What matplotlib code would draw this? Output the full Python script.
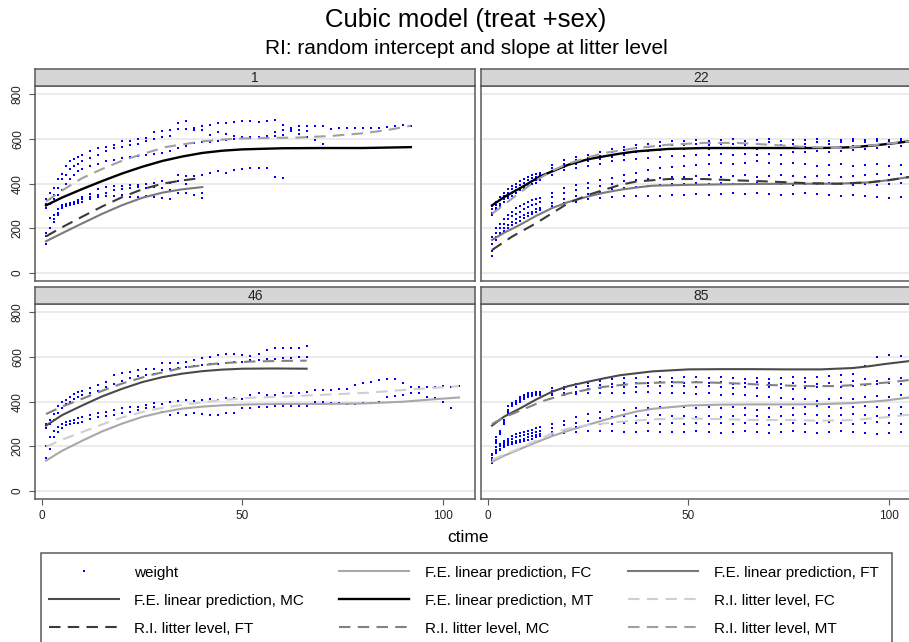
import matplotlib
matplotlib.use('Agg')
import matplotlib.pyplot as plt
from matplotlib.lines import Line2D
from matplotlib.patches import Rectangle

plt.rcParams['font.family'] = ['Liberation Sans', 'DejaVu Sans']

# measurement days (litters 1 and 46 every 2 days, litters 22 and 85 every 3 days)
days_a = [1, 2, 3, 4, 5, 6, 7, 8, 9, 10, 12, 14, 16, 18, 20, 22, 24, 26, 28, 30,
          32, 34, 36, 38, 40, 42, 44, 46, 48, 50, 52, 54, 56, 58, 60, 62, 64, 66, 68, 70,
          72, 74, 76, 78, 80, 82, 84, 86, 88, 90, 92, 94, 96, 98, 100, 102, 104]
days_b = [1, 2, 3, 4, 5, 6, 7, 8, 9, 10, 11, 12, 13, 16, 19, 22, 25, 28, 31, 34,
          37, 40, 43, 46, 49, 52, 55, 58, 61, 64, 67, 70, 73, 76, 79, 82, 85, 88, 91, 94,
          97, 100, 103, 106]

# weights per pup
weight_1 = [
    [330, 360, 380, 420, 445, 480, 500, 510, 520, 530, 545, 560, 565, 575, 590, 590, 600, 605, 630, 635,
     640, 673, 680, 650, 660, 665, 673, 673, 675, 680, 682, 678, 680, 685, 665, 650, 660, 660, 660, 660,
     645, 650, 650, 650, 650, 650, 650, 655, 660, 665, 660],
    [310, 330, 350, 380, 420, 440, 465, 480, 490, 500, 515, 530, 545, 560, 565, 575, 580, 590, 600, 610,
     615, 645, 645, 640, 640, 620, 630, 625, 615, 610, 610, 605, 610, 630, 640, 643, 640, 635],
    [290, 310, 330, 350, 370, 400, 420, 440, 455, 465, 478, 490, 500, 508, 515, 520, 525, 530, 535, 538,
     545, 560, 570, 583, 585, 588, 590, 595, 600, 605, 605, 610, 612, 615, 620, 635, 625, 610, 598, 578],
    [180, 245, 260, 285, 305, 310, 315, 320, 325, 340, 355, 375, 385, 390, 390, 395, 395, 400, 405, 410,
     405, 440, 435, 435, 440, 450, 455, 450, 460, 465, 470, 470, 470, 430, 425],
    [130, 175, 240, 270, 295, 300, 305, 310, 315, 320, 330, 340, 345, 345, 350, 340, 340, 345, 340, 335,
     330, 360, 360, 350, 335],
    [165, 200, 230, 260, 290, 300, 310, 315, 320, 330, 340, 350, 360, 370, 375, 380, 385, 380, 385, 380,
     370, 410, 400, 380, 360],
]
weight_46 = [
    [300, 320, 345, 380, 400, 407, 420, 435, 445, 450, 460, 475, 490, 519, 527, 535, 542, 545, 548, 572,
     572, 575, 580, 587, 594, 601, 609, 616, 612, 609, 605, 616, 631, 639, 639, 639, 640, 649],
    [280, 300, 320, 350, 370, 390, 400, 410, 420, 430, 440, 450, 465, 480, 495, 505, 515, 520, 525, 540,
     545, 550, 555, 560, 565, 570, 570, 575, 580, 580, 585, 585, 590, 590, 595, 595, 600, 600],
    [200, 243, 270, 288, 300, 310, 312, 318, 325, 332, 340, 348, 355, 363, 370, 378, 375, 385, 395, 392,
     398, 404, 407, 404, 407, 410, 407, 415, 415, 410, 430, 437, 430, 430, 437, 437, 437, 445, 452, 452,
     452, 455, 455, 475, 482, 490, 497, 503, 500, 482, 467, 467, 467, 467, 470, 467, 470],
    [150, 190, 243, 266, 280, 295, 300, 303, 305, 310, 321, 333, 338, 340, 348, 355, 363, 370, 375, 355,
     340, 348, 340, 348, 345, 340, 340, 348, 348, 370, 370, 378, 378, 381, 381, 381, 381, 381, 400, 400,
     395, 395, 392, 392, 395, 395, 400, 422, 425, 430, 437, 437, 422, 415, 400, 373],
]
weight_22 = [
    [300, 320, 340, 360, 375, 390, 400, 410, 420, 430, 440, 445, 450, 485, 505, 520, 530, 540, 555, 565,
     575, 580, 585, 590, 590, 595, 590, 595, 600, 590, 595, 600, 590, 595, 595, 600, 590, 595, 600, 595,
     600, 595, 600, 600],
    [285, 305, 325, 345, 360, 375, 385, 395, 405, 415, 425, 430, 440, 470, 490, 505, 515, 525, 540, 550,
     560, 565, 570, 575, 575, 580, 575, 580, 580, 575, 580, 585, 575, 580, 580, 585, 580, 585, 590, 585,
     590, 590, 595, 595],
    [270, 290, 310, 330, 345, 360, 370, 380, 390, 400, 410, 415, 420, 455, 475, 490, 500, 510, 520, 530,
     540, 545, 550, 555, 555, 560, 555, 560, 560, 560, 555, 560, 560, 560, 565, 560, 560, 565, 570, 570,
     575, 580, 585, 585],
    [260, 280, 300, 320, 335, 345, 360, 370, 380, 390, 400, 405, 415, 440, 460, 470, 480, 490, 500, 505,
     510, 515, 520, 525, 525, 530, 530, 535, 530, 535, 530, 535, 530, 540, 540, 545, 540, 545, 550, 555,
     560, 565, 570, 575],
    [160, 200, 220, 240, 260, 275, 290, 300, 310, 320, 325, 330, 335, 360, 380, 395, 405, 415, 425, 440,
     450, 460, 470, 475, 480, 485, 490, 495, 490, 495, 500, 495, 490, 495, 490, 480, 485, 490, 480, 485,
     490, 480, 485, 480],
    [130, 180, 200, 220, 240, 255, 265, 275, 285, 295, 305, 310, 320, 340, 360, 370, 380, 390, 400, 410,
     415, 420, 425, 430, 430, 435, 440, 430, 435, 440, 430, 435, 440, 435, 430, 435, 440, 430, 435, 440,
     445, 440, 445, 450],
    [100, 160, 180, 200, 215, 230, 240, 250, 260, 270, 275, 285, 290, 315, 330, 345, 355, 365, 375, 380,
     385, 390, 395, 400, 400, 405, 400, 405, 400, 400, 405, 400, 400, 395, 400, 400, 405, 400, 395, 400,
     395, 400, 405, 410],
    [75, 150, 170, 190, 200, 215, 225, 235, 245, 255, 265, 275, 280, 300, 315, 320, 330, 335, 340, 345,
     345, 345, 345, 350, 350, 355, 350, 355, 360, 355, 360, 355, 350, 355, 360, 355, 350, 345, 350, 345,
     340, 335, 340, 345],
]
weight_85 = [
    [165, 240, 270, 320, 380, 395, 405, 420, 430, 437, 440, 445, 445, 460, 467, 480, 485, 495, 500, 505,
     505, 510, 510, 505, 510, 510, 505, 510, 505, 500, 505, 500, 505, 510, 505, 510, 515, 520, 525, 560,
     600, 610, 605, 600],
    [150, 230, 265, 310, 365, 390, 400, 410, 420, 430, 435, 440, 440, 450, 455, 465, 470, 475, 480, 485,
     485, 485, 490, 490, 485, 490, 485, 490, 480, 485, 490, 485, 480, 485, 490, 480, 485, 490, 495, 500,
     495, 500, 505, 510],
    [140, 220, 260, 300, 355, 385, 395, 405, 415, 425, 430, 435, 437, 435, 440, 445, 455, 460, 465, 465,
     465, 470, 470, 470, 470, 465, 470, 465, 460, 465, 460, 465, 460, 455, 460, 465, 470, 465, 470, 475,
     480, 485, 480, 485],
    [130, 215, 255, 300, 350, 380, 390, 400, 410, 420, 425, 430, 430, 430, 430, 435, 440, 440, 440, 440,
     445, 445, 440, 440, 440, 435, 440, 430, 435, 430, 425, 420, 415, 410, 410, 405, 410, 415, 410, 420,
     425, 420, 430, 435],
    [161, 195, 210, 225, 235, 245, 255, 260, 265, 270, 275, 280, 285, 300, 315, 330, 345, 355, 360, 365,
     370, 370, 375, 375, 375, 370, 375, 370, 375, 370, 365, 370, 375, 370, 375, 380, 375, 370, 375, 380,
     375, 370, 375, 380],
    [150, 185, 200, 215, 225, 235, 240, 245, 250, 255, 260, 265, 270, 280, 295, 305, 315, 325, 330, 335,
     335, 340, 340, 335, 335, 330, 335, 330, 335, 340, 335, 330, 335, 340, 345, 340, 335, 340, 345, 340,
     335, 340, 345, 340],
    [140, 175, 190, 205, 215, 220, 225, 230, 235, 240, 245, 250, 255, 265, 275, 285, 295, 300, 300, 305,
     305, 305, 300, 305, 300, 305, 300, 305, 300, 305, 300, 295, 300, 305, 300, 305, 310, 305, 300, 305,
     310, 305, 300, 305],
    [127, 170, 185, 195, 205, 210, 215, 220, 225, 230, 235, 240, 245, 255, 260, 265, 270, 270, 270, 265,
     265, 270, 265, 266, 265, 270, 265, 260, 265, 270, 265, 260, 265, 270, 265, 260, 265, 270, 265, 260,
     255, 260, 265, 260],
]

# fitted curves: (days, predicted weight) per group
fits_1 = {
    'fe_FT': ([1, 5, 10, 15, 20, 25, 30, 35, 40], [142, 178, 222, 265, 304, 337, 360, 375, 385]),
    'fe_MT': ([1, 5, 10, 15, 20, 25, 30, 35, 40, 45, 50, 60, 70, 80, 92],
              [303, 338, 376, 412, 446, 476, 502, 522, 538, 548, 554, 559, 560, 560, 564]),
    'ri_FT': ([1, 5, 10, 15, 20, 25, 30, 35, 40], [164, 205, 252, 298, 340, 375, 400, 415, 426]),
    'ri_MT': ([1, 6, 10, 15, 20, 25, 31, 40, 48, 56, 64, 72, 80, 86, 92],
              [321, 381, 425, 466, 503, 533, 565, 590, 602, 605, 607, 614, 626, 640, 660]),
}
fits_22 = {
    'fe_FT': ([1, 4, 8, 12, 16, 20, 25, 29, 33, 37, 41, 50, 62, 75, 87, 95, 100, 105, 108],
              [148, 180, 216, 256, 291, 318, 343, 360, 373, 383, 391, 395, 398, 400, 400, 406, 416, 430, 438]),
    'fe_MT': ([1, 4, 8, 13, 20, 25, 29, 33, 37, 45, 54, 62, 70, 80, 87, 92, 97, 102, 108],
              [303, 340, 380, 433, 485, 510, 523, 535, 545, 556, 560, 560, 560, 560, 561, 565, 573, 583, 597]),
    'ri_FT': ([1, 6, 12, 16, 20, 25, 29, 33, 37, 45, 54, 62, 70, 79, 87, 95, 100, 105, 108],
              [103, 163, 223, 268, 313, 350, 373, 395, 410, 421, 421, 415, 410, 403, 400, 406, 416, 430, 437]),
    'ri_MT': ([1, 5, 12, 16, 20, 25, 29, 37, 45, 54, 62, 70, 79, 87, 95, 100, 105, 108],
              [265, 320, 415, 458, 490, 518, 538, 560, 575, 583, 583, 575, 565, 560, 571, 580, 590, 595]),
}
fits_46 = {
    'fe_FC': ([1, 5, 10, 15, 20, 25, 30, 35, 40, 45, 52, 60, 70, 80, 90, 97, 104],
              [136, 180, 225, 267, 302, 332, 353, 369, 378, 384, 388, 390, 390, 392, 400, 410, 419]),
    'fe_MC': ([1, 5, 10, 15, 20, 25, 30, 35, 40, 45, 50, 58, 66],
              [293, 340, 383, 424, 458, 488, 510, 526, 537, 544, 548, 549, 548]),
    'ri_FC': ([1, 5, 10, 15, 20, 27, 35, 44, 52, 60, 69, 81, 89, 104],
              [198, 230, 264, 298, 330, 363, 386, 406, 418, 423, 430, 440, 451, 470]),
    'ri_MC': ([1, 5, 10, 15, 20, 27, 35, 44, 52, 60, 66],
              [345, 378, 413, 449, 482, 519, 552, 572, 580, 583, 584]),
}
fits_85 = {
    'fe_FC': ([1, 4, 8, 12, 16, 20, 25, 29, 33, 37, 41, 50, 58, 66, 75, 83, 91, 99, 105, 108],
              [131, 158, 188, 218, 246, 270, 297, 318, 338, 356, 368, 383, 387, 388, 388, 389, 394, 405, 419, 425]),
    'fe_MC': ([1, 4, 8, 12, 16, 20, 25, 29, 33, 41, 50, 58, 66, 75, 83, 91, 95, 99, 105, 108],
              [293, 333, 370, 410, 445, 470, 490, 505, 519, 536, 545, 546, 546, 545, 545, 551, 559, 569, 582, 588]),
    'ri_FC': ([1, 4, 8, 12, 16, 20, 25, 33, 41, 50, 58, 66, 75, 83, 91, 99, 104, 108],
              [139, 163, 191, 226, 258, 280, 296, 310, 321, 325, 322, 318, 318, 315, 318, 330, 340, 346]),
    'ri_MC': ([1, 4, 8, 14, 20, 25, 29, 37, 45, 54, 62, 70, 79, 87, 95, 100, 105, 108],
              [300, 330, 360, 405, 437, 455, 467, 482, 487, 487, 482, 475, 470, 470, 479, 487, 497, 505]),
}

dash = (0, (5.5, 3.5))
styles = {
    'fe_FC': dict(color='#a8a8a8', lw=1.5, ls='-'),
    'fe_FT': dict(color='#7a7a7a', lw=1.5, ls='-'),
    'fe_MC': dict(color='#4a4a4a', lw=1.5, ls='-'),
    'fe_MT': dict(color='#000000', lw=1.7, ls='-'),
    'ri_FC': dict(color='#cfcfcf', lw=1.5, ls=dash),
    'ri_FT': dict(color='#3a3a3a', lw=1.5, ls=dash),
    'ri_MC': dict(color='#828282', lw=1.5, ls=dash),
    'ri_MT': dict(color='#a0a0a0', lw=1.5, ls=dash),
}
labels = {
    'fe_FC': 'F.E. linear prediction, FC', 'fe_FT': 'F.E. linear prediction, FT',
    'fe_MC': 'F.E. linear prediction, MC', 'fe_MT': 'F.E. linear prediction, MT',
    'ri_FC': 'R.I. litter level, FC', 'ri_FT': 'R.I. litter level, FT',
    'ri_MC': 'R.I. litter level, MC', 'ri_MT': 'R.I. litter level, MT',
}

W, H = 909, 642
fig = plt.figure(figsize=(W / 100, H / 100), dpi=100)

frame_c = '#5a5a5a'
dot_c = '#0000ff'

# (title, weights, days, fits, left px, top px)
panels = [
    ('1', weight_1, days_a, fits_1, 35, 86),
    ('22', weight_22, days_b, fits_22, 481, 86),
    ('46', weight_46, days_a, fits_46, 35, 304),
    ('85', weight_85, days_b, fits_85, 481, 304),
]
pw, ph, sh = 440, 195, 17

for name, weights, days, fits, lx, ty in panels:
    ax = fig.add_axes([lx / W, 1 - (ty + ph) / H, pw / W, ph / H])
    for w in weights:
        ax.plot(days[:len(w)], w, ls='none', marker='s', ms=1.5, mew=0, color=dot_c)
    for key, (t, v) in fits.items():
        ax.plot(t, v, **styles[key])
    ax.set_xlim(-1.75, 108)
    ax.set_ylim(-36, 838)
    ax.set_yticks([0, 200, 400, 600, 800])
    ax.grid(axis='y', color='#e9e9e9', lw=1.3)
    ax.set_axisbelow(True)
    for s in ax.spines.values():
        s.set_color(frame_c)
        s.set_linewidth(1.1)
    if lx < 100:
        ax.set_yticklabels(['0', '200', '400', '600', '800'], rotation=90, va='center')
        ax.tick_params(axis='y', length=4, color=frame_c, labelsize=8.5, pad=4, labelcolor='#222222')
    else:
        ax.tick_params(axis='y', left=False, labelleft=False)
    if ty > 200:
        ax.set_xticks([0, 50, 100])
        ax.tick_params(axis='x', length=4, color=frame_c, labelsize=8.5, pad=4, labelcolor='#222222')
    else:
        ax.set_xticks([])

    # strip with litter number
    sax = fig.add_axes([lx / W, 1 - ty / H, pw / W, sh / H])
    sax.set_facecolor('#d6d6d6')
    sax.set_xticks([])
    sax.set_yticks([])
    for s in sax.spines.values():
        s.set_color(frame_c)
        s.set_linewidth(1.1)
    sax.text(0.5, 0.45, name, transform=sax.transAxes, ha='center', va='center', fontsize=10, color='#222222')

fig.text(466 / W, 1 - 20 / H, 'Cubic model (treat +sex)', ha='center', va='center', fontsize=18.5)
fig.text(466 / W, 1 - 48 / H, 'RI: random intercept and slope at litter level', ha='center', va='center', fontsize=15)
fig.text(468 / W, 1 - 537 / H, 'ctime', ha='center', va='center', fontsize=12.5)

# legend box runs off the bottom of the image, as in the original
fig.patches.append(Rectangle((41 / W, -0.05), (892 - 41) / W, 0.05 + 1 - 553 / H,
                             transform=fig.transFigure, fill=False, edgecolor=frame_c, lw=1.1))

# legend, filled column by column so that rows read like the original
h = {k: Line2D([], [], **styles[k]) for k in styles}
h['weight'] = Line2D([], [], ls='none', marker='s', ms=1.5, mew=0, color=dot_c)
order = ['weight', 'fe_MC', 'ri_FT', 'fe_FC', 'fe_MT', 'ri_MC', 'fe_FT', 'ri_FC', 'ri_MT']
leg = fig.legend([h[k] for k in order], ['weight' if k == 'weight' else labels[k] for k in order],
                 ncol=3, loc='upper left', bbox_to_anchor=(41 / W, 1 - 558 / H),
                 fontsize=11, frameon=False,
                 handlelength=4.6, handletextpad=1.0, columnspacing=2.3,
                 labelspacing=0.92, borderpad=0.5, borderaxespad=0, numpoints=1)

fig.savefig('out.png', dpi=100)
